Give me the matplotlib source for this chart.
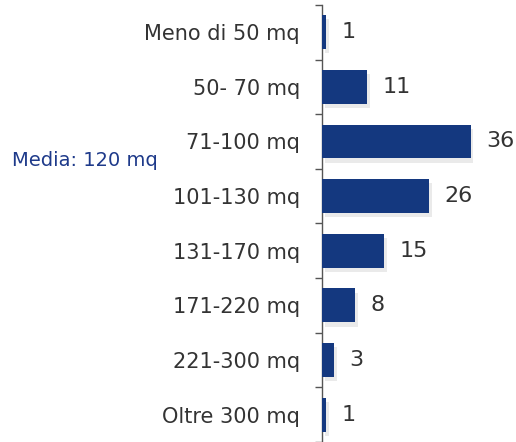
import matplotlib.pyplot as plt
import matplotlib.patheffects as pe
import numpy as np

categories = ['Meno di 50 mq', '50- 70 mq', '71-100 mq', '101-130 mq',
              '131-170 mq', '171-220 mq', '221-300 mq', 'Oltre 300 mq']
values = [1, 11, 36, 26, 15, 8, 3, 1]
media_label = 'Media: 120 mq'

bar_color = '#14387f'
text_color = '#333333'

fig = plt.figure(figsize=(5.16, 4.42), dpi=100)
ax = fig.add_axes([0.624, 0.0, 0.376, 0.989])

pos = np.arange(len(categories))
bars = ax.barh(pos, values, height=0.62, color=bar_color, zorder=3,
               path_effects=[pe.SimplePatchShadow(offset=(2, -3), shadow_rgbFace='#999999', alpha=0.2), pe.Normal()])

for i, v in enumerate(values):
    ax.annotate(str(v), xy=(v, pos[i]), xytext=(11, 0), textcoords='offset points',
                va='center', ha='left', fontsize=16, color=text_color)

ax.set_ylim(len(categories) - 0.5, -0.5)
ax.set_xlim(0, 47)

# ticks between categories
ax.set_yticks(np.arange(len(categories) + 1) - 0.5)
ax.set_yticklabels([])
ax.set_yticks(pos, minor=True)
ax.set_yticklabels(categories, minor=True, fontsize=15, color=text_color)
ax.tick_params(axis='y', which='major', direction='out', length=5, width=1, color='#555555')
ax.tick_params(axis='y', which='minor', length=0, pad=16)
ax.set_xticks([])

for s in ['top', 'right', 'bottom']:
    ax.spines[s].set_visible(False)
ax.spines['left'].set_color('#555555')
ax.spines['left'].set_linewidth(1)

fig.text(12 / 516, 1 - 160 / 442, media_label, fontsize=14, color='#1e3a8a',
         ha='left', va='center')

fig.savefig('out.png', dpi=100)
